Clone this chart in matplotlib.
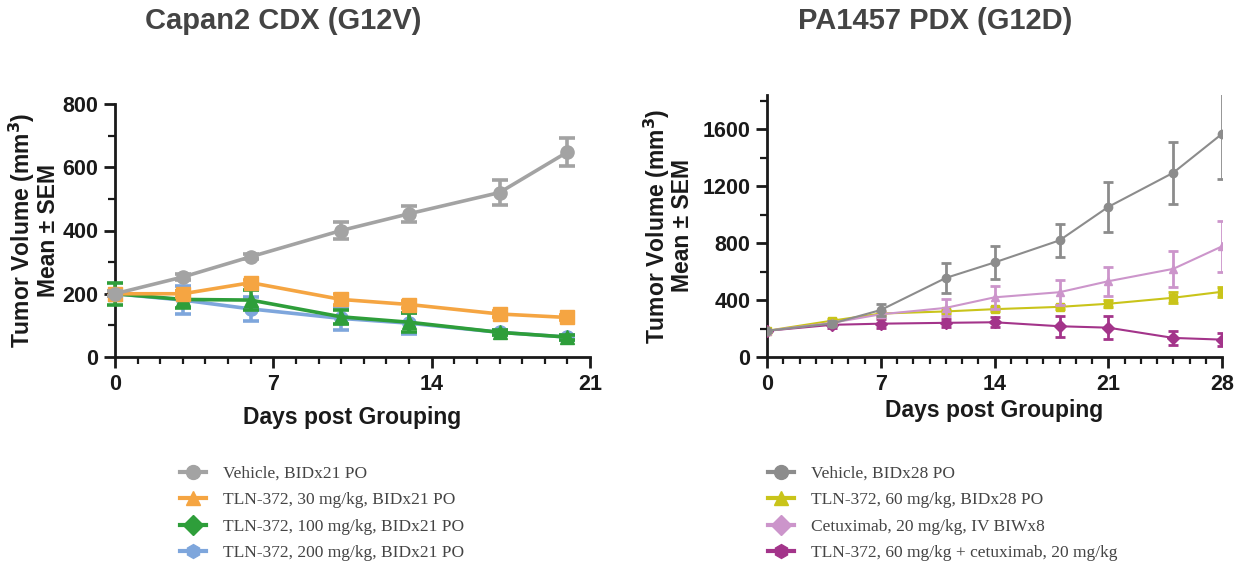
import matplotlib
matplotlib.use("Agg")
import matplotlib.pyplot as plt
from matplotlib.lines import Line2D
from matplotlib.ticker import MultipleLocator

# ---------------- data ----------------
left_days = [0, 3, 6, 10, 13, 17, 20]
left_vehicle = [200, 253, 317, 400, 453, 520, 648]
left_vehicle_err = [8, 8, 8, 28, 25, 40, 44]
left_30 = [200, 200, 235, 182, 166, 136, 125]
left_30_err = [8, 10, 8, 18, 10, 8, 8]
left_100 = [200, 182, 180, 127, 110, 78, 63]
left_100_err = [35, 27, 32, 23, 30, 8, 8]
left_200 = [200, 180, 152, 122, 107, 78, 63]
left_200_err = [8, 43, 38, 37, 33, 8, 8]

left_labels = ["Vehicle, BIDx21 PO",
               "TLN-372, 30 mg/kg, BIDx21 PO",
               "TLN-372, 100 mg/kg, BIDx21 PO",
               "TLN-372, 200 mg/kg, BIDx21 PO"]

right_days = [0, 4, 7, 11, 14, 18, 21, 25, 28]
right_vehicle = [184, 235, 330, 555, 664, 819, 1054, 1294, 1567]
right_vehicle_err = [8, 15, 42, 106, 114, 115, 174, 218, 318]
right_tln60 = [184, 255, 305, 320, 336, 352, 374, 416, 458]
right_tln60_err = [8, 12, 10, 10, 12, 12, 25, 40, 35]
right_cetux = [184, 240, 300, 345, 419, 455, 532, 619, 777]
right_cetux_err = [8, 12, 20, 60, 83, 87, 103, 126, 180]
right_combo = [184, 226, 234, 240, 244, 216, 206, 134, 122]
right_combo_err = [8, 20, 30, 30, 35, 73, 82, 50, 45]

right_labels = ["Vehicle, BIDx28 PO",
                "TLN-372, 60 mg/kg, BIDx28 PO",
                "Cetuximab, 20 mg/kg, IV BIWx8",
                "TLN-372, 60 mg/kg + cetuximab, 20 mg/kg"]

left_colors = ["#a3a3a3", "#f5a542", "#2e9e3a", "#7ea6dc"]
right_colors = ["#8c8c8c", "#c9c41a", "#cc95cb", "#a3348a"]

# ---------------- figure ----------------
plt.rcParams['font.family'] = ['Liberation Sans', 'DejaVu Sans']
fig = plt.figure(figsize=(12.36, 5.68), dpi=100)

axL = fig.add_axes([115/1236, 1-357/568, (590-115)/1236, (357-104)/568])
axR = fig.add_axes([767/1236, 1-357/568, (1222-767)/1236, (357-95)/568])

def style_axis(ax, xlabelpad, ylabelpad):
    for s in ['top', 'right']:
        ax.spines[s].set_visible(False)
    for s in ['left', 'bottom']:
        ax.spines[s].set_linewidth(2)
        ax.spines[s].set_color('#1a1a1a')
    ax.tick_params(which='major', length=8, width=2, color='#1a1a1a',
                   labelsize=15.5, labelcolor='#1a1a1a', pad=4)
    ax.tick_params(which='minor', length=5, width=1.6, color='#1a1a1a')
    for lab in ax.get_xticklabels() + ax.get_yticklabels():
        lab.set_fontweight('bold')
    ax.set_xlabel("Days post Grouping", fontsize=16.5, fontweight='bold',
                  color='#1a1a1a', labelpad=xlabelpad)
    ax.set_ylabel("Tumor Volume (mm$^{\\mathbf{3}}$)\nMean ± SEM", fontsize=16.5,
                  fontweight='bold', color='#1a1a1a', labelpad=ylabelpad,
                  linespacing=0.95)

# left plot
left_series = [(left_200, left_200_err, 'o'), (left_100, left_100_err, '^'),
               (left_30, left_30_err, 's'), (left_vehicle, left_vehicle_err, 'o')]
left_cols_order = [left_colors[3], left_colors[2], left_colors[1], left_colors[0]]
for z, ((vals, errs, m), c) in enumerate(zip(left_series, left_cols_order)):
    axL.errorbar(left_days, vals, yerr=errs, color=c, marker=m, markersize=9.5,
                 linewidth=2.6, elinewidth=2.6, capsize=5.5, capthick=2.6,
                 zorder=3 + z, clip_on=False)
axL.set_xlim(0, 21)
axL.set_ylim(0, 800)
axL.xaxis.set_major_locator(MultipleLocator(7))
axL.xaxis.set_minor_locator(MultipleLocator(1))
axL.yaxis.set_major_locator(MultipleLocator(200))
axL.yaxis.set_minor_locator(MultipleLocator(100))
style_axis(axL, 8, 2)

# right plot
right_series = [(right_combo, right_combo_err, 'D', right_colors[3]),
                (right_tln60, right_tln60_err, 's', right_colors[1]),
                (right_cetux, right_cetux_err, '^', right_colors[2]),
                (right_vehicle, right_vehicle_err, 'o', right_colors[0])]
for z, (vals, errs, m, c) in enumerate(right_series):
    axR.errorbar(right_days, vals, yerr=errs, color=c, marker=m, markersize=6,
                 linewidth=1.5, elinewidth=2, capsize=3.5, capthick=2,
                 zorder=3 + z, clip_on=True)
axR.set_xlim(0, 28)
axR.set_ylim(0, 1840)
axR.xaxis.set_major_locator(MultipleLocator(7))
axR.xaxis.set_minor_locator(MultipleLocator(1))
axR.yaxis.set_major_locator(MultipleLocator(400))
axR.yaxis.set_minor_locator(MultipleLocator(200))
style_axis(axR, 3, 6)

# titles
fig.text(283/1236, 1-21/568, "Capan2 CDX (G12V)", fontsize=21,
         fontweight='bold', color='#444444', ha='center', va='center')
fig.text(935/1236, 1-21/568, "PA1457 PDX (G12D)", fontsize=21,
         fontweight='bold', color='#444444', ha='center', va='center')

# legends
legend_markers = ['o', '^', 'D', 'h']

def make_handles(colors):
    return [Line2D([0], [0], color=c, marker=m, markersize=10, linewidth=3)
            for c, m in zip(colors, legend_markers)]

for colors, labels, x0 in ((left_colors, left_labels, 164),
                           (right_colors, right_labels, 752)):
    leg = fig.legend(make_handles(colors), labels,
                     loc='upper left', bbox_to_anchor=(x0/1236, 1-450/568),
                     frameon=False, handlelength=1.5, handletextpad=1.0,
                     labelspacing=0.6,
                     prop={'family': 'Liberation Serif', 'size': 12.5})
    for t in leg.get_texts():
        t.set_color('#444444')

fig.savefig("out.png", dpi=100)
